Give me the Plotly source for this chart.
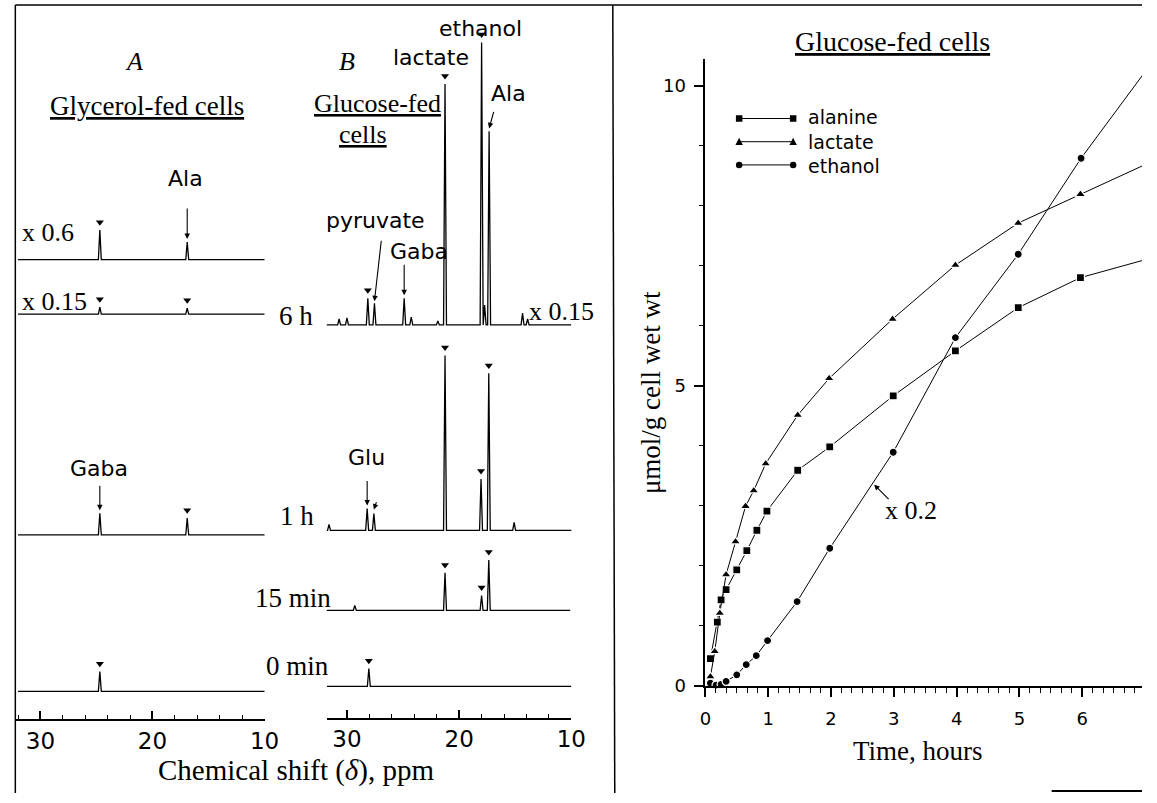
import plotly.graph_objects as go

W, H = 1157, 803
SERIF = "Liberation Serif, Times New Roman, serif"
SANS = "DejaVu Sans, Arial, sans-serif"

# ---------------- Right panel: time course (umol/g cell wet wt) ----------------
ala_t = [0.08, 0.19, 0.25, 0.33, 0.50, 0.66, 0.82, 0.98, 1.47, 1.98, 2.99, 3.98, 4.98, 5.97, 6.97]
ala_v = [0.45, 1.06, 1.43, 1.60, 1.93, 2.25, 2.59, 2.91, 3.59, 3.98, 4.83, 5.58, 6.30, 6.80, 7.09]
lac_t = [0.08, 0.15, 0.23, 0.33, 0.48, 0.64, 0.77, 0.96, 1.47, 1.97, 2.98, 3.98, 4.98, 5.97, 6.97]
lac_v = [0.15, 0.57, 1.21, 1.85, 2.40, 2.99, 3.25, 3.70, 4.51, 5.12, 6.11, 7.01, 7.71, 8.19, 8.67]
eth_t = [0.08, 0.17, 0.25, 0.33, 0.50, 0.65, 0.81, 0.99, 1.46, 1.98, 2.99, 3.98, 4.98, 5.98, 6.97]
eth_v = [0.04, 0.01, 0.02, 0.07, 0.18, 0.35, 0.50, 0.75, 1.40, 2.29, 3.89, 5.80, 7.19, 8.79, 10.19]
series_names = ["alanine", "lactate", "ethanol"]
x_ticks = [0, 1, 2, 3, 4, 5, 6]
y_ticks = [0, 5, 10]

# ---------------- Left panels: 13C spectra (peak ppm, peak height) ----------------
A_x06_ppm = [24.7, 16.9]
A_x06_int = [30, 18]
A_x015_ppm = [24.7, 16.9]
A_x015_int = [7, 6]
A_1h_ppm = [24.7, 16.9]
A_1h_int = [22, 17]
A_0min_ppm = [24.7]
A_0min_int = [20]

B_6h_ppm = [30.7, 30.0, 28.14, 27.55, 24.9, 24.27, 21.9, 21.26, 18.0, 17.73, 17.33, 14.35, 13.9]
B_6h_int = [6, 7, 27, 22, 27, 8, 4, 244, 286, 20, 196, 12, 6]
B_1h_ppm = [31.6, 28.2, 27.6, 21.26, 18.05, 17.36, 15.1]
B_1h_int = [6, 22, 17, 177, 52, 159, 8]
B_15min_ppm = [29.3, 21.26, 18.0, 17.36]
B_15min_int = [5, 38, 15, 51]
B_0min_ppm = [28.05]
B_0min_int = [18]

ppm_ticks = [30, 20, 10]

fig = go.Figure()

# ---- layout helpers (pixel -> paper) ----
def px(x):
    return x / W

def py(y):
    return 1 - y / H

AX_A, AX_B = 728.3, 726.7   # pixel row of the ppm axes

def stick(ppm, inten, start, end, w=0.13):
    pairs = sorted(zip(ppm, inten), reverse=True)
    xs, ys = [start], [0]
    for p, h in pairs:
        xs += [p + w, p, p - w]
        ys += [0, h, 0]
    xs.append(end)
    ys.append(0)
    return xs, ys

# spectra: (ppm, int, panel, baseline pixel, start, end, marked ppm)
spectra = [
    (A_x06_ppm, A_x06_int, "A", 263, 32.0, 9.8, [24.7]),
    (A_x015_ppm, A_x015_int, "A", 318, 32.0, 9.8, [24.7, 16.9]),
    (A_1h_ppm, A_1h_int, "A", 541.7, 32.0, 9.8, [16.9]),
    (A_0min_ppm, A_0min_int, "A", 700, 32.0, 9.8, [24.7]),
    (B_6h_ppm, B_6h_int, "B", 329, 32.1, 10.0, [28.14, 21.26, 18.0]),
    (B_1h_ppm, B_1h_int, "B", 537, 32.1, 9.9, [21.26, 18.05, 17.36]),
    (B_15min_ppm, B_15min_int, "B", 618, 31.9, 10.1, [21.26, 18.0, 17.36]),
    (B_0min_ppm, B_0min_int, "B", 695, 31.8, 10.0, [28.05]),
]
offsets = {}
for ppm, inten, panel, base, s, e, marked in spectra:
    axpx = AX_A if panel == "A" else AX_B
    off = axpx - base
    xa, ya = ("x2", "y2") if panel == "A" else ("x3", "y3")
    xs, ys = stick(ppm, inten, s, e)
    fig.add_trace(go.Scatter(x=xs, y=[off + v for v in ys], mode="lines",
                             line=dict(color="black", width=1.3),
                             xaxis=xa, yaxis=ya, hoverinfo="skip", showlegend=False))
    hmap = dict(zip(ppm, inten))
    if marked:
        fig.add_trace(go.Scatter(x=marked, y=[off + hmap[p] + 8 for p in marked], mode="markers",
                                 marker=dict(symbol="triangle-down", size=7, color="black"),
                                 xaxis=xa, yaxis=ya, hoverinfo="skip", showlegend=False,
                                 cliponaxis=False))
    offsets[(panel, base)] = (off, hmap)

# ---- right panel traces ----
sym = ["square", "triangle-up", "circle"]
msz = [8, 9, 8]
for (t, v), name, s, m in zip([(ala_t, ala_v), (lac_t, lac_v), (eth_t, eth_v)], series_names, sym, msz):
    fig.add_trace(go.Scatter(x=t, y=v, mode="lines+markers", name=name,
                             line=dict(color="black", width=1),
                             marker=dict(symbol=s, size=m, color="black", line=dict(color="white", width=1.2)),
                             xaxis="x", yaxis="y", cliponaxis=False, showlegend=False))

axis_common = dict(showline=True, linecolor="black", linewidth=1.5, showgrid=False, zeroline=False,
                   tickcolor="black", tickwidth=1.5)

fig.update_layout(
    width=W, height=H, margin=dict(l=0, r=0, t=0, b=0),
    paper_bgcolor="white", plot_bgcolor="rgba(0,0,0,0)", showlegend=False,
    xaxis=dict(domain=[px(712.3), 1.0], range=[0, 6.95], anchor="y", ticks="outside", ticklen=10,
               tickvals=x_ticks, ticklabelstandoff=6,
               minor=dict(dtick=1 / 6, tick0=0, ticks="outside", ticklen=6,
                          tickcolor="black", tickwidth=1),
               tickfont=dict(family=SANS, size=18, color="black"), **axis_common),
    yaxis=dict(domain=[py(694.3), py(60)], range=[0, 10.44], anchor="x", ticks="outside", ticklen=10,
               tickvals=y_ticks, ticklabelstandoff=4,
               minor=dict(dtick=1, tick0=0, ticks="outside", ticklen=5,
                          tickcolor="black", tickwidth=1),
               tickfont=dict(family=SANS, size=18, color="black"), **axis_common),
    xaxis2=dict(domain=[px(10), px(263.3)], range=[32.2, 10], anchor="y2", ticks="inside", ticklen=8,
                tickvals=ppm_ticks, minor=dict(dtick=2, tick0=0, ticks="inside", ticklen=4,
                                                tickcolor="black", tickwidth=1),
                tickfont=dict(family=SANS, size=23, color="black"), **axis_common),
    yaxis2=dict(domain=[py(AX_A), 1], range=[0, AX_A], anchor="x2", visible=False),
    xaxis3=dict(domain=[px(326.7), px(575.8)], range=[31.8, 10], anchor="y3", ticks="inside", ticklen=8,
                tickvals=ppm_ticks, minor=dict(dtick=2, tick0=0, ticks="inside", ticklen=4,
                                                tickcolor="black", tickwidth=1),
                tickfont=dict(family=SANS, size=23, color="black"), **axis_common),
    yaxis3=dict(domain=[py(AX_B), 1], range=[0, AX_B], anchor="x3", visible=False),
)

ann = []

def T(text, x, y, size, fam=SERIF, xanchor="center", **kw):
    ann.append(dict(text=text, x=px(x), y=py(y), xref="paper", yref="paper", showarrow=False,
                    font=dict(family=fam, size=size, color="black"), xanchor=xanchor,
                    yanchor="middle", **kw))

def ARROW(xa, ya, x, y, ax, ay, size=1.0):
    ann.append(dict(text="", x=x, y=y, xref=xa, yref=ya, ax=ax, ay=ay, axref="pixel", ayref="pixel",
                    showarrow=True, arrowhead=2, arrowsize=size, arrowwidth=1.1,
                    arrowcolor="black", standoff=0))

# panel headings
T("<i>A</i>", 130, 62, 26)
T("<i>B</i>", 347, 62, 26)
T("<u>Glycerol-fed cells</u>", 144, 107, 27)
T("<u>Glucose-fed</u>", 378.7, 105, 26)
T("<u>cells</u>", 363.7, 136, 26)
T("<u>Glucose-fed cells</u>", 903, 42, 28)

# scale / time labels
T("x 0.6", 43, 235, 26)
T("x 0.15", 49, 305, 26)
T("6 h", 295, 320, 27)
T("x 0.15", 566, 315, 26)
T("1 h", 296, 523, 27)
T("15 min", 292, 606, 27)
T("0 min", 297, 674, 27)
T("Chemical shift (<i>δ</i>), ppm", 295, 780, 29)

# peak labels
T("Ala", 183, 181, 22, SANS)
T("Gaba", 95, 474, 22, SANS)
T("pyruvate", 376, 223, 22, SANS)
T("Gaba", 420.5, 255, 22, SANS)
T("lactate", 433, 58, 22, SANS)
T("ethanol", 483, 29, 22, SANS)
T("Ala", 511.5, 95, 22, SANS)
T("Glu", 367, 463, 22, SANS)

# labelled arrows
off, hm = offsets[("A", 263)]
ARROW("x2", "y2", 16.9, off + hm[16.9] + 3, 0, -32)
off, hm = offsets[("A", 541.7)]
ARROW("x2", "y2", 24.7, off + hm[24.7] + 3, 0, -26)
off, hm = offsets[("B", 329)]
ARROW("x3", "y3", 27.55, off + hm[27.55] + 2, 7, -62)
ARROW("x3", "y3", 24.9, off + hm[24.9] + 3, 0, -32)
ARROW("x3", "y3", 17.33, off + hm[17.33] + 3, 5, -18)
off, hm = offsets[("B", 537)]
ARROW("x3", "y3", 28.2, off + hm[28.2] + 3, 0, -26)
ARROW("x3", "y3", 27.6, off + hm[27.6] + 4, 3, -9)

# right panel labels
ARROW("x", "y", 2.686, 3.35, 16, 16)
T("x 0.2", 922, 517, 26)
T("Time, hours", 929, 760, 27)
T("μmol/g cell wet wt", 657, 398, 27, textangle=-90)

# legend text (one block, left aligned)
leg_y = [120, 143.5, 167]
ann.append(dict(text="<br>".join(series_names), x=px(815), y=py(143.5), xref="paper", yref="paper",
                showarrow=False, align="left", xanchor="left", yanchor="middle",
                font=dict(family=SANS, size=19, color="black")))

fig.update_layout(annotations=ann)

# shapes: borders + legend keys
shapes = []
def LINE(x0, y0, x1, y1, w=1.5):
    shapes.append(dict(type="line", xref="paper", yref="paper", x0=px(x0), y0=py(y0),
                       x1=px(x1), y1=py(y1), line=dict(color="black", width=w)))

LINE(9.5, 5, 1157, 5)
LINE(9.5, 5, 9.5, 803)
LINE(618, 5, 620, 803)
LINE(1065, 801, 1157, 801, 2)

xl, xr, r = 746.7, 801.7, 3.3
for kind, yy in zip(["sq", "tri", "ci"], leg_y):
    LINE(xl, yy, xr, yy, 1)
    for xc in (xl, xr):
        if kind == "sq":
            shapes.append(dict(type="rect", xref="paper", yref="paper", x0=px(xc - r), x1=px(xc + r),
                               y0=py(yy + r), y1=py(yy - r), fillcolor="black", line=dict(width=0)))
        elif kind == "ci":
            shapes.append(dict(type="circle", xref="paper", yref="paper", x0=px(xc - r), x1=px(xc + r),
                               y0=py(yy + r), y1=py(yy - r), fillcolor="black", line=dict(width=0)))
        else:
            path = "M %f %f L %f %f L %f %f Z" % (px(xc - 3.8), py(yy + 3.3), px(xc + 3.8), py(yy + 3.3),
                                                  px(xc), py(yy - 4))
            shapes.append(dict(type="path", xref="paper", yref="paper", path=path,
                               fillcolor="black", line=dict(width=0)))
fig.update_layout(shapes=shapes)

fig.write_html("out.html", config={"displayModeBar": False},
               post_script="document.body.style.margin='0px';document.body.style.overflow='hidden';")
